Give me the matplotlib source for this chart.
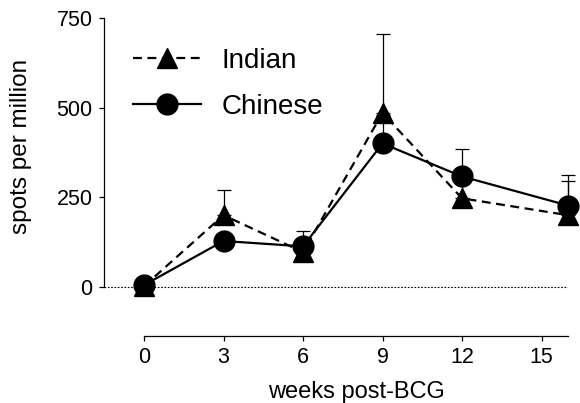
import numpy as np
import matplotlib
matplotlib.use("Agg")
import matplotlib.pyplot as plt

plt.rcParams['font.family'] = ['Liberation Sans', 'DejaVu Sans']

# values
weeks = [0, 3, 6, 9, 12, 16]
indian = [2, 200, 97, 485, 247, 200]
indian_err = [5, 70, 20, 219, 50, 113]
chinese = [5, 128, 113, 400, 308, 227]
chinese_err = [5, 20, 43, 80, 76, 68]

x_ticks = [0, 3, 6, 9, 12, 15]
y_ticks = [0, 250, 500, 750]

W, H = 580, 403
fig = plt.figure(figsize=(W / 100, H / 100), dpi=100)
ax = fig.add_axes([104 / W, 67 / H, (568 - 104) / W, (336 - 18) / H])

dash = (0, (4, 2.5))

# dotted zero line
ax.axhline(0, color='black', lw=0.8, ls=(0, (1.5, 1.5)), zorder=1)

# Indian
ax.errorbar(weeks, indian, yerr=[np.zeros(len(weeks)), indian_err],
            fmt='none', ecolor='black', elinewidth=0.9, capsize=4.7,
            capthick=0.9, zorder=2, clip_on=False)
ax.plot(weeks, indian, color='black', lw=1.6, ls=dash, marker='^',
        markersize=14, label='Indian', zorder=3, clip_on=False)

# Chinese
ax.errorbar(weeks, chinese, yerr=[np.zeros(len(weeks)), chinese_err],
            fmt='none', ecolor='black', elinewidth=0.9, capsize=4.7,
            capthick=0.9, zorder=2, clip_on=False)
ax.plot(weeks, chinese, color='black', lw=1.6, ls='-', marker='o',
        markersize=15, label='Chinese', zorder=4, clip_on=False)

ax.set_xlim(-1.51, 16)
ax.set_ylim(-137, 750)

for s in ['top', 'right']:
    ax.spines[s].set_visible(False)
ax.spines['left'].set_bounds(0, 750)
ax.spines['bottom'].set_bounds(0, 16)
for s in ['left', 'bottom']:
    ax.spines[s].set_linewidth(0.9)

ax.set_xticks(x_ticks)
ax.set_yticks(y_ticks)
ax.tick_params(axis='both', length=3.8, width=0.9, labelsize=15.5, color='black')
ax.tick_params(axis='x', pad=4)
ax.tick_params(axis='y', pad=4.5)

ax.set_xlabel('weeks post-BCG', fontsize=17)
ax.set_ylabel('spots per million', fontsize=17.5)
ax.xaxis.set_label_coords(0.545, -0.14)
ax.yaxis.set_label_coords(-0.155, 0.595)

ax.legend(loc='upper left', bbox_to_anchor=(133 / W, 1 - 48 / H),
          bbox_transform=fig.transFigure, frameon=False, fontsize=20,
          handlelength=2.45, handletextpad=0.75, labelspacing=0.72,
          numpoints=1, borderpad=0, borderaxespad=0)

fig.savefig('out.png', dpi=100)
